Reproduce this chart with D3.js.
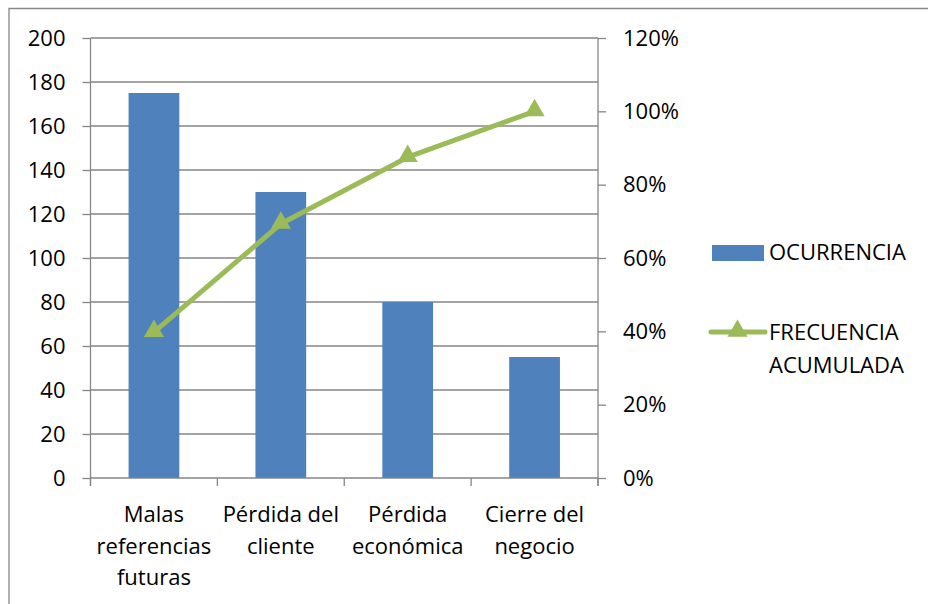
<!DOCTYPE html>
<html>
<head>
<meta charset="utf-8">
<script src="https://cdn.jsdelivr.net/npm/d3@7"></script>
<style>
  html, body { margin: 0; padding: 0; background: #fff; }
  svg { display: block; font-family: "Open Sans", "Liberation Sans", Arial, sans-serif; }
</style>
</head>
<body>
<svg id="chart" width="928" height="604"></svg>
<script>
// Pareto data: occurrences per consequence and the cumulative share
const categories = ["Malas referencias futuras", "Pérdida del cliente", "Pérdida económica", "Cierre del negocio"];
const ocurrencia = [175, 130, 80, 55];
const frecuenciaAcumulada = [0.3977, 0.6932, 0.875, 1.0];
const leftTicks = [0, 20, 40, 60, 80, 100, 120, 140, 160, 180, 200];
const rightTicks = [0, 0.2, 0.4, 0.6, 0.8, 1.0, 1.2];
const legendLabels = ["OCURRENCIA", "FRECUENCIA ACUMULADA"];

const BLUE = "#4F81BD", GREEN = "#9BBB59", AXIS = "#868686";
const FONT = 22;

const svg = d3.select("#chart");
const plot = { left: 90.5, right: 598, top: 38, bottom: 478 };

// chart area frame
svg.append("path")
  .attr("d", "M9,620 L9,8.5 L940,8.5")
  .attr("fill", "none").attr("stroke", AXIS).attr("stroke-width", 1.3);

const x = d3.scaleBand().domain(categories)
  .range([plot.left, plot.right]).paddingInner(0.6).paddingOuter(0.3);
const yL = d3.scaleLinear().domain([0, 200]).range([plot.bottom, plot.top]);
const yR = d3.scaleLinear().domain([0, 1.2]).range([plot.bottom, plot.top]);

// horizontal gridlines
svg.append("g").selectAll("line").data(leftTicks.filter(d => d > 0)).join("line")
  .attr("x1", plot.left).attr("x2", plot.right)
  .attr("y1", d => yL(d)).attr("y2", d => yL(d))
  .attr("stroke", AXIS).attr("stroke-width", 1.3);

// bars
svg.append("g").selectAll("rect").data(ocurrencia).join("rect")
  .attr("x", (d, i) => x(categories[i]))
  .attr("width", x.bandwidth())
  .attr("y", d => yL(d))
  .attr("height", d => yL(0) - yL(d))
  .attr("fill", BLUE);

// left axis
const gL = svg.append("g").attr("transform", `translate(${plot.left},0)`)
  .call(d3.axisLeft(yL).tickValues(leftTicks).tickSize(8).tickPadding(17));
gL.select(".domain").remove();
gL.selectAll(".tick line").attr("stroke", AXIS).attr("stroke-width", 1.3);
gL.selectAll("text").attr("font-size", FONT).attr("fill", "#000");

// right axis
const gR = svg.append("g").attr("transform", `translate(${plot.right},0)`)
  .call(d3.axisRight(yR).tickValues(rightTicks).tickFormat(d3.format(".0%")).tickSize(8).tickPadding(17));
gR.select(".domain").remove();
gR.selectAll(".tick line").attr("stroke", AXIS).attr("stroke-width", 1.3);
gR.selectAll("text").attr("font-size", FONT).attr("fill", "#000");
gL.attr("font-family", null);
gR.attr("font-family", null);

// vertical axis lines (running down to the category tick length)
[plot.left, plot.right].forEach(px => {
  svg.append("line").attr("x1", px).attr("x2", px)
    .attr("y1", plot.top).attr("y2", plot.bottom + 8)
    .attr("stroke", AXIS).attr("stroke-width", 1.3);
});

// category axis
const gX = svg.append("g").attr("transform", `translate(0,${plot.bottom})`);
gX.append("line").attr("x1", plot.left).attr("x2", plot.right)
  .attr("stroke", AXIS).attr("stroke-width", 1.3);
const edges = categories.map(c => x(c) - x.step() * x.paddingInner() / 2);
edges.push(plot.right);
gX.selectAll("line.tk").data(edges).join("line").attr("class", "tk")
  .attr("x1", d => d).attr("x2", d => d).attr("y1", 0).attr("y2", 8)
  .attr("stroke", AXIS).attr("stroke-width", 1.3);

// wrapped category labels
const maxW = x.step();
categories.forEach(cat => {
  const t = gX.append("text").attr("text-anchor", "middle")
    .attr("font-size", FONT).attr("fill", "#000");
  const words = cat.split(" ");
  const lines = [];
  let cur = [];
  const probe = svg.append("text").attr("font-size", FONT);
  words.forEach(w => {
    const test = cur.concat([w]).join(" ");
    probe.text(test);
    if (cur.length && probe.node().getComputedTextLength() > maxW) {
      lines.push(cur.join(" "));
      cur = [w];
    } else cur.push(w);
  });
  lines.push(cur.join(" "));
  probe.remove();
  lines.forEach((ln, i) => {
    t.append("tspan").attr("x", x(cat) + x.bandwidth() / 2)
      .attr("y", 44 + i * 31.5).text(ln);
  });
});

// cumulative frequency line with triangle markers
const line = d3.line()
  .x((d, i) => x(categories[i]) + x.bandwidth() / 2)
  .y(d => yR(d));
svg.append("path").datum(frecuenciaAcumulada)
  .attr("d", line).attr("fill", "none")
  .attr("stroke", GREEN).attr("stroke-width", 5).attr("stroke-linejoin", "round");
const tri = d3.symbol().type(d3.symbolTriangle).size(175);
svg.append("g").selectAll("path").data(frecuenciaAcumulada).join("path")
  .attr("d", tri)
  .attr("transform", (d, i) => `translate(${x(categories[i]) + x.bandwidth() / 2},${yR(d) - 1})`)
  .attr("fill", GREEN);

// legend
const lg = svg.append("g");
lg.append("rect").attr("x", 712).attr("y", 245).attr("width", 52).attr("height", 16).attr("fill", BLUE);
lg.append("text").attr("x", 769).attr("y", 260).attr("font-size", FONT).text(legendLabels[0]);
lg.append("line").attr("x1", 711).attr("x2", 765).attr("y1", 332).attr("y2", 332)
  .attr("stroke", GREEN).attr("stroke-width", 5).attr("stroke-linecap", "round");
lg.append("path").attr("d", tri).attr("transform", "translate(737.5,331)").attr("fill", GREEN);
const lt = lg.append("text").attr("font-size", FONT);
legendLabels[1].split(" ").forEach((w, i) => {
  lt.append("tspan").attr("x", 769).attr("y", 340 + i * 33).text(w);
});
</script>
</body>
</html>
